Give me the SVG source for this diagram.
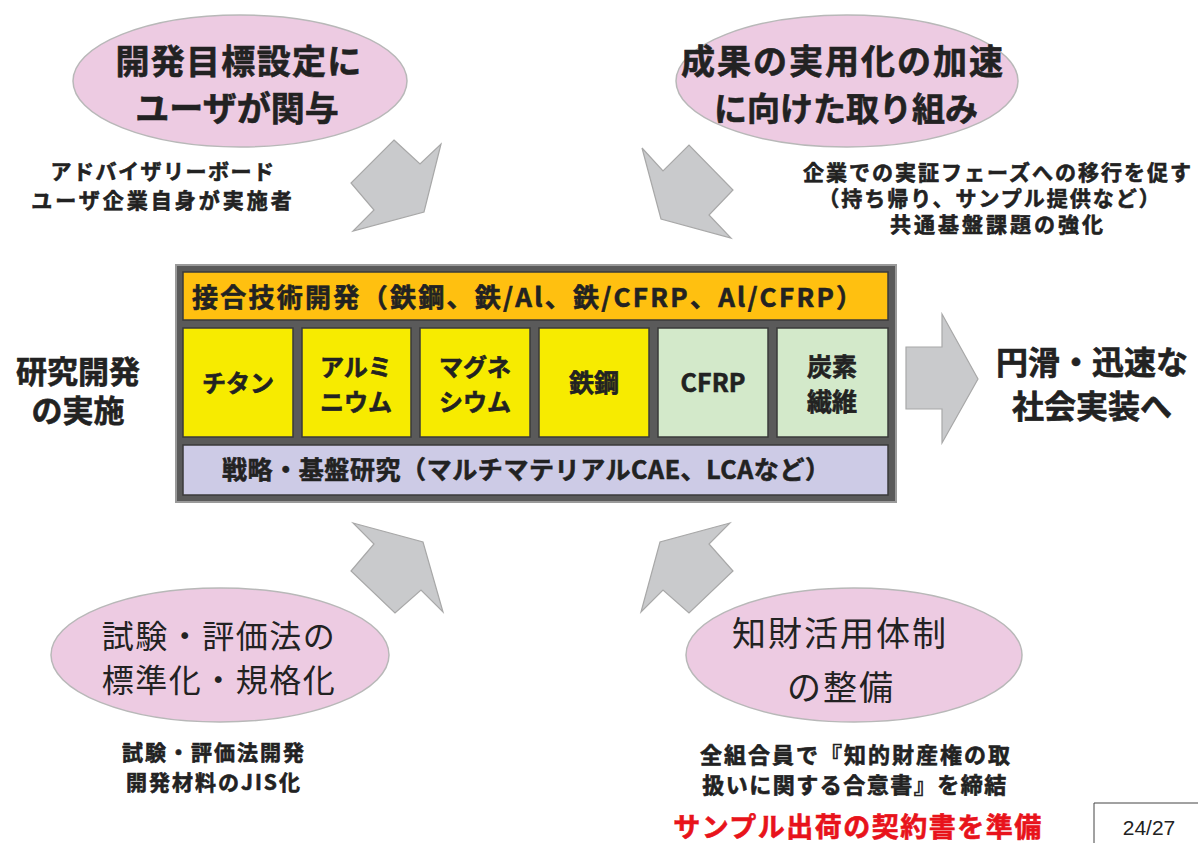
<svg xmlns="http://www.w3.org/2000/svg" width="1198" height="843" viewBox="0 0 1198 843">
<style>
  text { font-family: "Noto Sans CJK JP", "Noto Sans", sans-serif; fill: #222; }
  .b { font-weight: 700; stroke: #222; stroke-width: 0.6; }
  .m { text-anchor: middle; }
  .ell { fill: #EDCBE2; stroke: #B8B8B8; stroke-width: 1.5; }
  .arr { fill: #C9CACC; stroke: #A8A8A8; stroke-width: 1.2; stroke-linejoin: miter; }
  .cell { stroke: #3a3a3a; stroke-width: 1.5; }
</style>
<rect width="1198" height="843" fill="#ffffff"/>

<g id="connectors">
  <polygon class="arr" points="394,140 420,164 441,144 424,212 353,231 374,210 351,183"/>
  <polygon class="arr" points="642,148 663,171 689,145 733,190 709,215 731,238 661,219"/>
  <polygon class="arr" points="353,523 423,542 443,612 421,590 395,613 351,571 374,544"/>
  <polygon class="arr" points="730,523 660,542 641,612 663,590 689,613 733,571 709,544"/>
  <polygon class="arr" points="906,347 942,347 942,314 978,379 942,443 942,409 906,409"/>
</g>

<g id="goal-setting">
  <ellipse class="ell" cx="240" cy="81" rx="167" ry="66"/>
  <text class="b m" x="239" y="74" font-size="34" letter-spacing="1.3">開発目標設定に</text>
  <text class="b m" x="237" y="121" font-size="34">ユーザが関与</text>
  <text class="b m" x="163" y="179" font-size="21" letter-spacing="1.5">アドバイザリーボード</text>
  <text class="b m" x="163" y="208" font-size="21" letter-spacing="3">ユーザ企業自身が実施者</text>
</g>

<g id="practical-use">
  <ellipse class="ell" cx="847" cy="81" rx="171" ry="66"/>
  <text class="b m" x="843" y="74" font-size="34" letter-spacing="2">成果の実用化の加速</text>
  <text class="b m" x="846" y="121" font-size="33">に向けた取り組み</text>
  <text class="b m" x="998" y="180" font-size="21" letter-spacing="2">企業での実証フェーズへの移行を促す</text>
  <text class="b m" x="990" y="206" font-size="21" letter-spacing="2">（持ち帰り、サンプル提供など）</text>
  <text class="b m" x="998" y="232" font-size="21" letter-spacing="3">共通基盤課題の強化</text>
</g>

<g id="rd-box">
  <rect x="176" y="265" width="720" height="237" fill="#5A5A5A" stroke="#9A9A9A" stroke-width="2"/>
  <rect class="cell" x="183" y="272" width="705" height="48" fill="#FFC010"/>
  <text class="b" x="192" y="307" font-size="26" textLength="670" lengthAdjust="spacing">接合技術開発（鉄鋼、鉄/Al、鉄/CFRP、Al/CFRP）</text>

  <g id="cell-ti">
    <rect class="cell" x="183" y="328" width="110" height="109" fill="#F7EB00"/>
    <text class="b m" x="238" y="392" font-size="24">チタン</text>
  </g>
  <g id="cell-al">
    <rect class="cell" x="302" y="328" width="109" height="109" fill="#F7EB00"/>
    <text class="b m" x="356" y="376" font-size="24">アルミ</text>
    <text class="b m" x="356" y="411" font-size="24">ニウム</text>
  </g>
  <g id="cell-mg">
    <rect class="cell" x="420" y="328" width="110" height="109" fill="#F7EB00"/>
    <text class="b m" x="475" y="376" font-size="24">マグネ</text>
    <text class="b m" x="475" y="411" font-size="24">シウム</text>
  </g>
  <g id="cell-steel">
    <rect class="cell" x="539" y="328" width="110" height="109" fill="#F7EB00"/>
    <text class="b m" x="594" y="392" font-size="25">鉄鋼</text>
  </g>
  <g id="cell-cfrp">
    <rect class="cell" x="658" y="328" width="110" height="109" fill="#D3E9CA"/>
    <text class="b m" x="713" y="392" font-size="25">CFRP</text>
  </g>
  <g id="cell-cf">
    <rect class="cell" x="777" y="328" width="111" height="109" fill="#D3E9CA"/>
    <text class="b m" x="832" y="376" font-size="25">炭素</text>
    <text class="b m" x="832" y="411" font-size="25">繊維</text>
  </g>

  <rect class="cell" x="183" y="445" width="705" height="50" fill="#CDCBE6"/>
  <text class="b m" x="526" y="479" font-size="25" textLength="608" lengthAdjust="spacing">戦略・基盤研究（マルチマテリアルCAE、LCAなど）</text>
</g>

<g id="rd-label">
  <text class="b m" x="78" y="383" font-size="31">研究開発</text>
  <text class="b m" x="78" y="422" font-size="31">の実施</text>
</g>

<g id="outcome">
  <text class="b m" x="1092" y="374" font-size="32">円滑・迅速な</text>
  <text class="b m" x="1092" y="418" font-size="32">社会実装へ</text>
</g>

<g id="standardization">
  <ellipse class="ell" cx="220" cy="655" rx="169" ry="67"/>
  <text class="m" x="219" y="648" font-size="32" letter-spacing="1.5">試験・評価法の</text>
  <text class="m" x="219" y="692" font-size="32" letter-spacing="1.5">標準化・規格化</text>
  <text class="b m" x="214" y="760" font-size="21" letter-spacing="2">試験・評価法開発</text>
  <text class="b m" x="214" y="790" font-size="21" letter-spacing="2">開発材料のJIS化</text>
</g>

<g id="ip-system">
  <ellipse class="ell" cx="854" cy="655" rx="168" ry="67"/>
  <text class="m" x="840" y="646" font-size="34" letter-spacing="2">知財活用体制</text>
  <text class="m" x="841" y="700" font-size="34" letter-spacing="2">の整備</text>
  <text class="b m" x="856" y="763" font-size="22" letter-spacing="2">全組合員で『知的財産権の取</text>
  <text class="b m" x="855" y="793" font-size="22" letter-spacing="1.5">扱いに関する合意書』を締結</text>
  <text class="b m" x="858" y="837" font-size="27" letter-spacing="1.5" style="fill:#E8131B;stroke:#E8131B">サンプル出荷の契約書を準備</text>
</g>

<g id="page-number">
  <polyline points="1094,843 1094,803 1198,803" fill="none" stroke="#444" stroke-width="1"/>
  <text x="1149" y="835" font-size="21" text-anchor="middle" style="font-family:'Liberation Sans', sans-serif; fill:#222">24/27</text>
</g>
</svg>
